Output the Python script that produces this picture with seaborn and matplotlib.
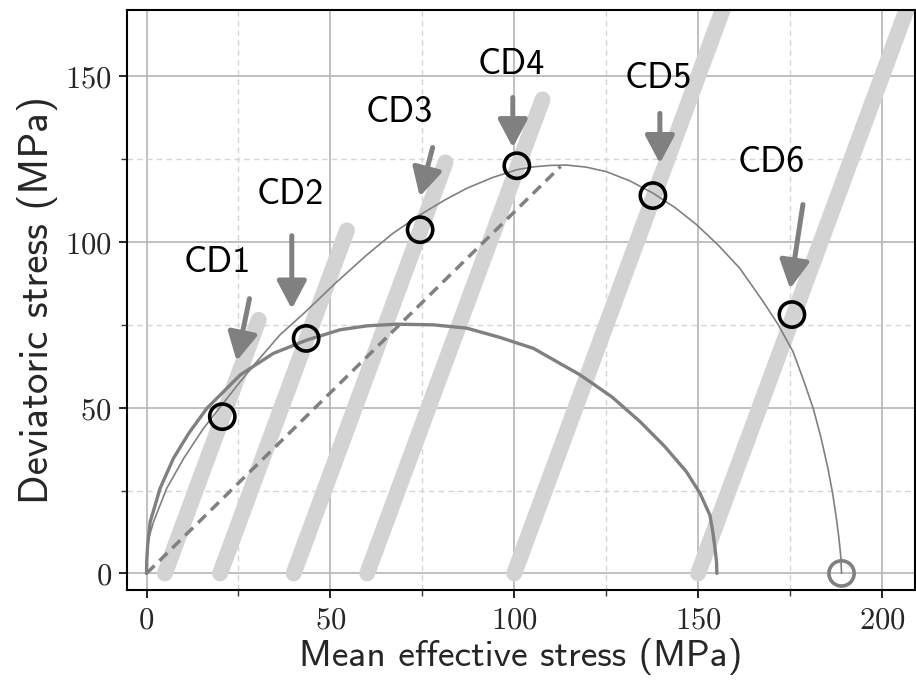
import matplotlib
matplotlib.use("Agg")
import matplotlib.pyplot as plt
import seaborn as sns
import pandas as pd

# ---------------- data ----------------
test_names = ["CD1", "CD2", "CD3", "CD4", "CD5", "CD6"]
path_p_start = [5, 20, 40, 60, 100, 150]
path_p_end = [30.5, 54.5, 81.3, 107.7, 160, 210]
path_q_end = [76.5, 103.5, 124, 143, 180, 180]

peak_p = [20.6, 43.4, 74.4, 100.7, 137.7, 175.5]
peak_q = [47.3, 70.9, 103.7, 123.0, 114.0, 78.1]

label_p = [19.3, 39.2, 68.6, 99.3, 139.3, 169.8]
label_q = [93.7, 114.3, 139.1, 153.6, 149.4, 124.0]
arrow_tail_p = [28.0, 39.5, 77.8, 99.6, 139.6, 178.5]
arrow_tail_q = [82.9, 101.9, 128.5, 143.6, 138.8, 111.3]
arrow_head_p = [24.5, 39.5, 74.3, 99.6, 139.6, 175.0]
arrow_head_q = [64.1, 79.8, 113.7, 128.5, 123.7, 85.9]

inner_p = [0, 0.05, 0.3, 1.0, 3.7, 7.3, 11.5, 16.4, 25.5, 34.5, 43.6, 52.6, 60, 68, 78,
           87.1, 96.1, 105.2, 117.9, 126.5, 134.2, 141, 146.8, 150.5, 153.2, 154.0,
           154.6, 155.0, 155.1]
inner_q = [0, 3.5, 8.5, 15.6, 25.7, 34.7, 42.3, 49.8, 59.9, 66.4, 70.4, 73.5, 74.7, 75.2,
           75.0, 74.0, 71.2, 67.9, 59.9, 53.3, 45.8, 38.2, 30.7, 24.2, 17.6, 12.5,
           7.5, 3.5, 0]

outer_p = [0, 0.1, 0.7, 1.9, 5.5, 10.1, 15.5, 20.6, 25.5, 30.0, 36.3, 43.3, 51.3, 59.9,
           67.0, 74.4, 81.0, 87.1, 94.0, 100.7, 105.5, 109.7, 114.2, 119.5, 125.1,
           131.5, 137.8, 143.8, 149.6, 155.5, 161.3, 167.7, 171.8, 175.8, 178.6,
           181.3, 183.4, 185.3, 186.6, 187.6, 188.3, 188.8, 189.0]
outer_q = [0, 7.5, 11.0, 15.6, 25.7, 34.7, 43.8, 51.0, 57.9, 63.9, 72.0, 79.0, 87.5, 96.1,
           102.6, 108.2, 112.6, 116.2, 119.4, 121.8, 122.7, 123.1, 123.2, 122.6, 121.2,
           118.4, 114.7, 110.3, 105.2, 99.0, 92.1, 82.0, 75.0, 66.9, 58.5,
           49.8, 41.0, 31.7, 24.0, 16.6, 10.5, 5.0, 0]

csl_p = [0, 112.6]
csl_q = [0, 122.8]

start_p = [189.0]
start_q = [0.0]

xtick_vals = [0, 50, 100, 150, 200]
ytick_vals = [0, 50, 100, 150]
xtick_labels = ["0", "50", "100", "150", "200"]
ytick_labels = ["0", "50", "100", "150"]

# ---------------- style ----------------
sns.set_style("white")
plt.rcParams["mathtext.fontset"] = "cm"
plt.rcParams["font.family"] = ["DejaVu Sans"]
SANS = ["cmss10", "DejaVu Sans"]

fig = plt.figure(figsize=(9.16, 6.83), dpi=100)
ax = fig.add_axes([0.1387, 0.1362, 0.8603, 0.8492])

# grid
ax.set_xticks(xtick_vals)
ax.set_yticks(ytick_vals)
ax.set_xticks([25, 75, 125, 175], minor=True)
ax.set_yticks([25, 75, 125], minor=True)
ax.grid(True, which="major", color="#b5b5b5", linestyle="-", linewidth=1.2)
ax.grid(True, which="minor", color="#d5d5d5", linestyle=(0, (4, 3)), linewidth=1.0)
ax.set_axisbelow(True)

# stress paths
for i in range(len(test_names)):
    df = pd.DataFrame({"p": [path_p_start[i], path_p_end[i]], "q": [0, path_q_end[i]]})
    sns.lineplot(data=df, x="p", y="q", ax=ax, color="#d3d3d3", linewidth=11.5,
                 solid_capstyle="round", sort=False, zorder=2)

# critical state line
sns.lineplot(x=csl_p, y=csl_q, ax=ax, color="gray", linewidth=2.5,
             linestyle=(0, (3.2, 2)), sort=False, zorder=3)

# yield surfaces
sns.lineplot(x=inner_p, y=inner_q, ax=ax, color="gray", linewidth=2.4, sort=False, zorder=3)
sns.lineplot(x=outer_p, y=outer_q, ax=ax, color="gray", linewidth=1.2, sort=False, zorder=3)

# peaks
sns.scatterplot(x=peak_p, y=peak_q, ax=ax, s=330, marker="o", facecolor="none",
                edgecolor="black", linewidth=2.6, zorder=5)
sns.scatterplot(x=start_p, y=start_q, ax=ax, s=330, marker="o", facecolor="none",
                edgecolor="gray", linewidth=2.6, zorder=5)

# arrows and labels
for i, name in enumerate(test_names):
    ax.annotate("", xy=(arrow_head_p[i], arrow_head_q[i]),
                xytext=(arrow_tail_p[i], arrow_tail_q[i]),
                arrowprops=dict(arrowstyle="-|>,head_length=0.85,head_width=0.45",
                                color="gray", lw=3.6, mutation_scale=20,
                                shrinkA=0, shrinkB=0),
                zorder=4)
    ax.text(label_p[i], label_q[i], name, fontsize=26, family=SANS,
            ha="center", va="center", color="black", zorder=6)

ax.set_xlim(-5.3, 209)
ax.set_ylim(-5, 170)
ax.set_xticklabels([r"$%s$" % t for t in xtick_labels], fontsize=22)
ax.set_yticklabels([r"$%s$" % t for t in ytick_labels], fontsize=22)
ax.tick_params(which="major", direction="out", length=6, width=1.2, color="black",
               bottom=True, left=True, pad=5)
ax.tick_params(which="minor", direction="out", length=4, width=1.0, color="#333333",
               bottom=True, left=True)
ax.set_xlabel("Mean effective stress (MPa)", fontsize=27, family=SANS, labelpad=3)
ax.set_ylabel("Deviatoric stress (MPa)", fontsize=29.5, family=SANS, labelpad=5)
for s in ax.spines.values():
    s.set_visible(True)
    s.set_color("black")
    s.set_linewidth(1.5)

fig.savefig("out.png", dpi=100)
